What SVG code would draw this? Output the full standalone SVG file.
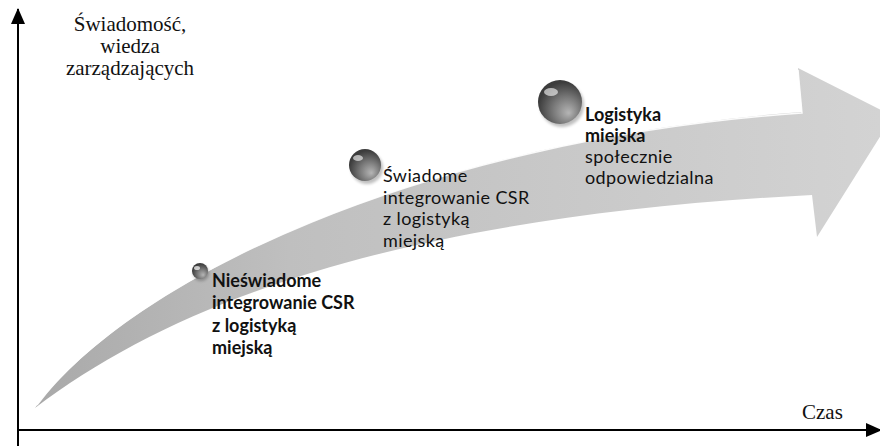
<svg xmlns="http://www.w3.org/2000/svg" width="880" height="446" viewBox="0 0 880 446">
<style>
.axis{stroke:#000;stroke-width:2;fill:none}
.ax-lbl{font-family:"Liberation Serif","Times New Roman",serif;font-size:21px;fill:#111}
.stage{font-family:Lato,"Noto Sans",sans-serif;font-size:18px;fill:#111;letter-spacing:0.4px}
.b{font-weight:bold;letter-spacing:0}
</style>
<defs>
<marker id="ah" viewBox="0 0 16 14" refX="15" refY="7" markerWidth="16" markerHeight="14" markerUnits="userSpaceOnUse" orient="auto">
<path d="M0,0 L16,7 L0,14 Z" fill="#000"/>
</marker>
<linearGradient id="arrowFill" x1="35" y1="0" x2="880" y2="0" gradientUnits="userSpaceOnUse">
<stop offset="0" stop-color="#a9a9a9"/>
<stop offset="0.3" stop-color="#bfbfbf"/>
<stop offset="0.65" stop-color="#c9c9c9"/>
<stop offset="1" stop-color="#d3d3d3"/>
</linearGradient>
<radialGradient id="sphere" cx="0.6" cy="0.65" r="0.6" fx="0.7" fy="0.75">
<stop offset="0" stop-color="#b5b5b5"/>
<stop offset="0.5" stop-color="#7a7a7a"/>
<stop offset="1" stop-color="#3c3c3c"/>
</radialGradient>
<filter id="soft" x="-50%" y="-50%" width="200%" height="200%">
<feGaussianBlur stdDeviation="1.5"/>
</filter>
</defs>

<g id="growth-arrow">
<path d="M35,408 C130,280 420,140 802,112 L798,68 L893,116 L817,237 L812,195 C430,215 190,290 35,408 Z" fill="url(#arrowFill)"/>
<path d="M37,405 C130,280 420,140 802,113 L798,70" fill="none" stroke="#ffffff" stroke-width="1.5" opacity="0.9"/>
</g>

<g id="axes">
<line class="axis" x1="18" y1="446" x2="18" y2="9" marker-end="url(#ah)"/>
<line class="axis" x1="17" y1="430" x2="881" y2="430" marker-end="url(#ah)"/>
</g>

<g id="y-label">
<text class="ax-lbl" text-anchor="middle" x="130" y="31">Świadomość,</text>
<text class="ax-lbl" text-anchor="middle" x="130" y="53">wiedza</text>
<text class="ax-lbl" text-anchor="middle" x="130" y="75">zarządzających</text>
</g>

<g id="x-label">
<text class="ax-lbl" x="802" y="419">Czas</text>
</g>

<g id="stage1">
<circle cx="201" cy="273" r="8" fill="#000" opacity="0.25" filter="url(#soft)"/>
<circle cx="200" cy="271" r="8" fill="url(#sphere)"/>
<ellipse cx="197" cy="268" rx="3" ry="2" fill="#fff" opacity="0.7"/>
<text class="stage b" x="212" y="287">Nieświadome</text>
<text class="stage b" x="212" y="309">integrowanie CSR</text>
<text class="stage b" x="212" y="332">z logistyką</text>
<text class="stage b" x="212" y="354">miejską</text>
</g>

<g id="stage2">
<circle cx="367" cy="168" r="16" fill="#000" opacity="0.25" filter="url(#soft)"/>
<circle cx="365" cy="165" r="16" fill="url(#sphere)"/>
<ellipse cx="358" cy="158" rx="5" ry="3" fill="#fff" opacity="0.6"/>
<text class="stage" x="383" y="182">Świadome</text>
<text class="stage" x="383" y="204">integrowanie CSR</text>
<text class="stage" x="383" y="225">z logistyką</text>
<text class="stage" x="383" y="247">miejską</text>
</g>

<g id="stage3">
<circle cx="562" cy="105" r="22" fill="#000" opacity="0.25" filter="url(#soft)"/>
<circle cx="560" cy="102" r="22" fill="url(#sphere)"/>
<ellipse cx="551" cy="92" rx="7" ry="4" fill="#fff" opacity="0.6"/>
<text class="stage b" x="585" y="121">Logistyka</text>
<text class="stage b" x="585" y="142">miejska</text>
<text class="stage" x="585" y="163">społecznie</text>
<text class="stage" x="585" y="184">odpowiedzialna</text>
</g>
</svg>
